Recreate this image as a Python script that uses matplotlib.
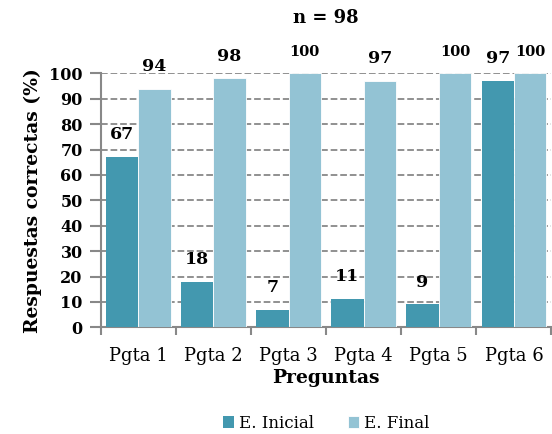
import numpy as np
import matplotlib.pyplot as plt

preguntas = ['Pgta 1', 'Pgta 2', 'Pgta 3', 'Pgta 4', 'Pgta 5', 'Pgta 6']
inicial = [67, 18, 7, 11, 9, 97]
final = [94, 98, 100, 97, 100, 100]

plt.rcParams['font.family'] = ['DejaVu Serif']

fig = plt.figure(figsize=(5.52, 4.34), dpi=100)
ax = fig.add_axes([0.1824, 0.2458, 0.8166, 0.5852])

x = np.arange(len(preguntas))
w = 0.43
c_ini = '#4398AF'
c_fin = '#93C3D4'
ax.bar(x - w / 2, inicial, w, color=c_ini, label='E. Inicial', zorder=3)
ax.bar(x + w / 2, final, w, color=c_fin, label='E. Final', zorder=3,
       edgecolor='white', linewidth=0.6)

for xi, v in zip(x - w / 2, inicial):
    ax.annotate(str(v), (xi, v), xytext=(0, 10), textcoords='offset points',
                ha='center', va='bottom', fontsize=12.5, fontweight='bold')
for xi, v in zip(x + w / 2, final):
    ax.annotate(str(v), (xi, v), xytext=(0, 10), textcoords='offset points',
                ha='center', va='bottom', fontsize=12.5 if v < 100 else 10.5,
                fontweight='bold')

ax.set_xlim(-0.5, len(preguntas) - 0.5)
ax.set_ylim(0, 100)
ax.set_yticks(range(0, 101, 10))
ax.set_xticks(x)
ax.set_xticklabels(preguntas, fontsize=13)
ax.set_xticks(np.arange(-0.5, len(preguntas), 1), minor=True)
ax.tick_params(axis='x', which='major', length=0, pad=14)
ax.tick_params(axis='x', which='minor', length=6, width=1.5, color='#888888')
ax.tick_params(axis='y', length=8, width=1.5, color='#888888', labelsize=11.5, pad=5)
for lbl in ax.get_yticklabels():
    lbl.set_fontweight('bold')

ax.grid(axis='y', linestyle='--', color='#888888', linewidth=1.3, zorder=0)
for s in ['top', 'right']:
    ax.spines[s].set_visible(False)
for s in ['left', 'bottom']:
    ax.spines[s].set_color('#888888')
    ax.spines[s].set_linewidth(1.5)

ax.set_ylabel('Respuestas correctas (%)', fontsize=13.5, fontweight='bold', labelpad=5)
ax.set_xlabel('Preguntas', fontsize=13.5, fontweight='bold', labelpad=3)
fig.text(0.59, 0.958, 'n = 98', ha='center', va='center', fontsize=13, fontweight='bold')

ax.legend(loc='upper center', bbox_to_anchor=(0.5, -0.285), ncol=2, frameon=False,
          fontsize=12, handlelength=0.7, handleheight=0.7, handletextpad=0.3,
          columnspacing=2.0)

fig.savefig('out.png', dpi=100)
